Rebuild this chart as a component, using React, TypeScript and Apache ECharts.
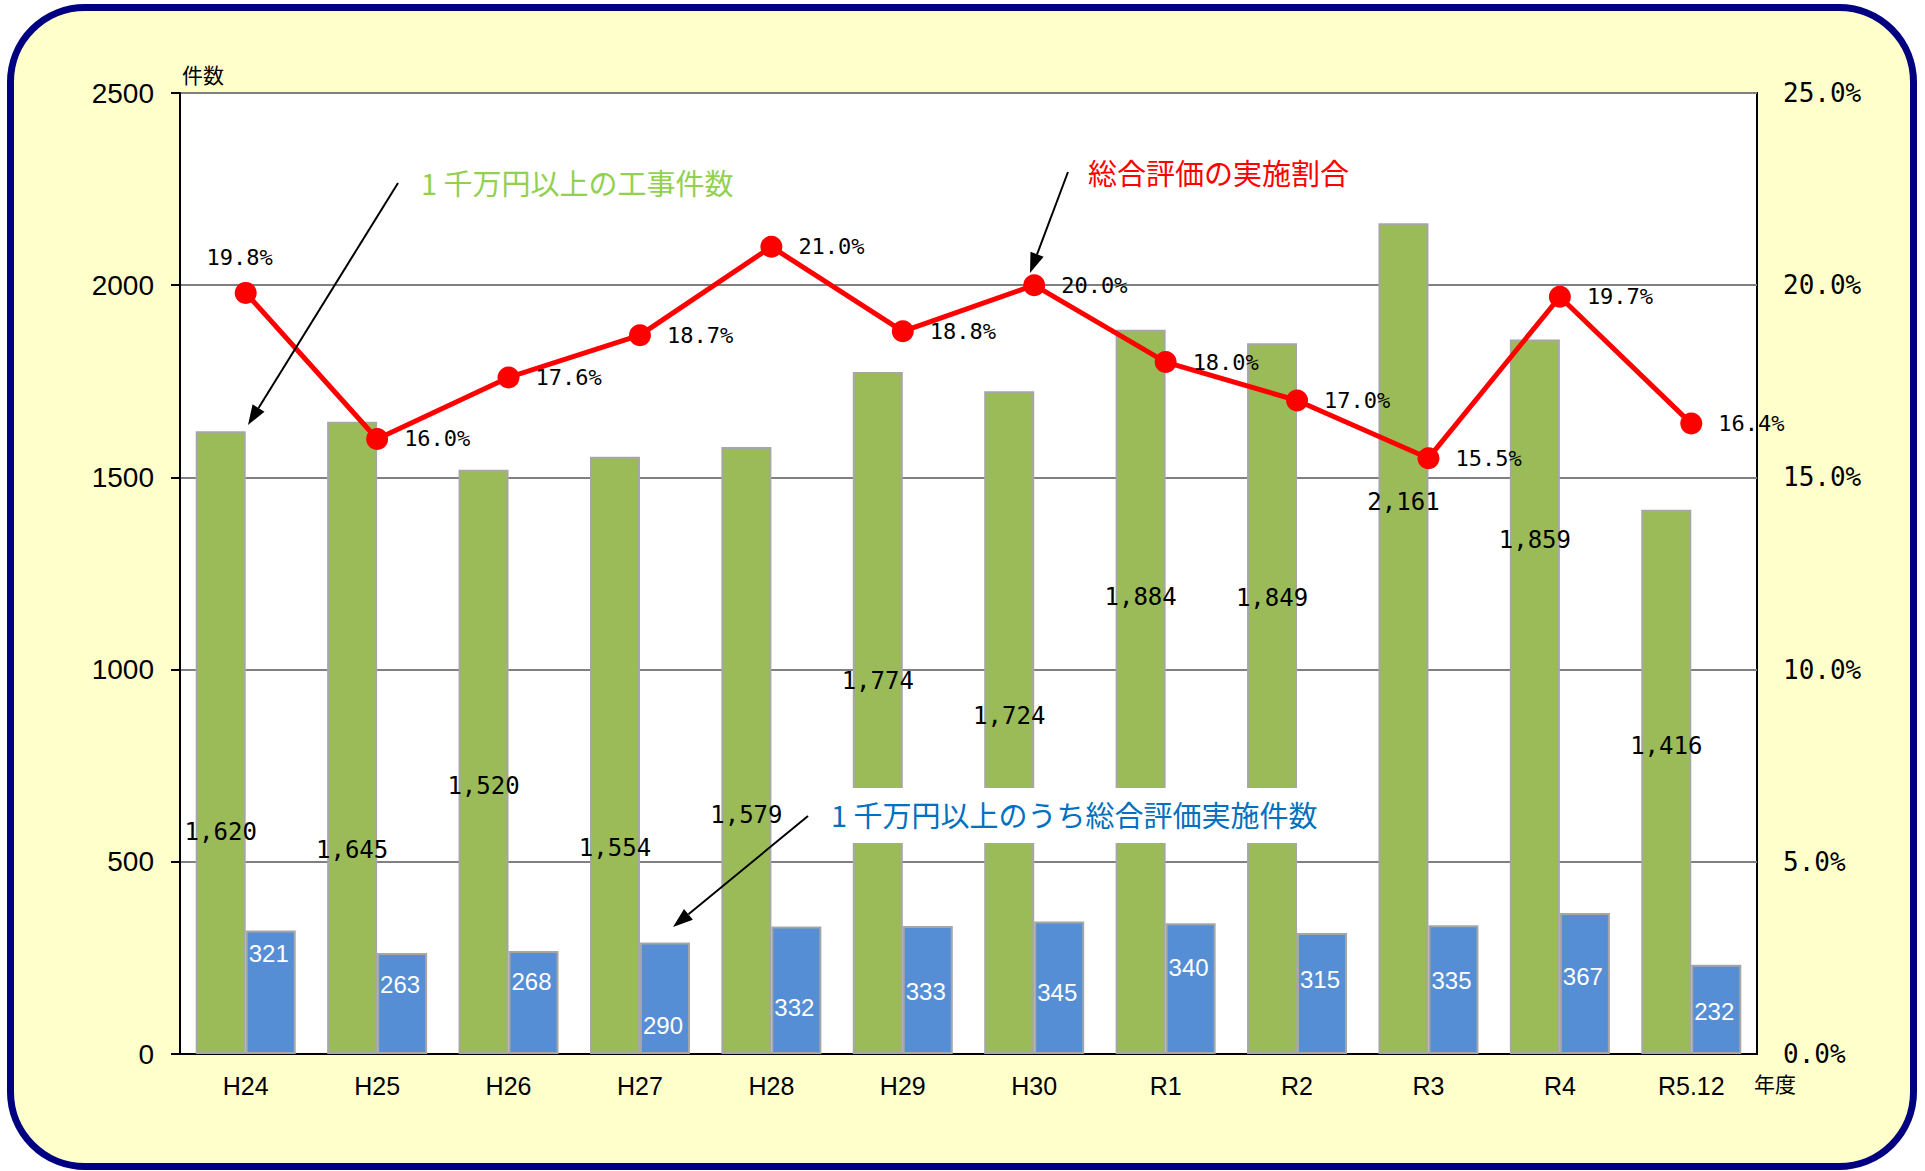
import React, { useEffect, useRef } from "react";
import * as echarts from "echarts";

const categories = ["H24", "H25", "H26", "H27", "H28", "H29", "H30", "R1", "R2", "R3", "R4", "R5.12"];
const totalWorks = [1620, 1645, 1520, 1554, 1579, 1774, 1724, 1884, 1849, 2161, 1859, 1416];
const evaluatedWorks = [321, 263, 268, 290, 332, 333, 345, 340, 315, 335, 367, 232];
const evalRate = [19.8, 16.0, 17.6, 18.7, 21.0, 18.8, 20.0, 18.0, 17.0, 15.5, 19.7, 16.4];
// heights (in count units) where each data label sits, as placed in the original
const totalLabelLevels = [578, 531, 697, 535, 622, 971, 879, 1188, 1185, 1435, 1337, 801];
const evalLabelLevels = [262, 180, 188, 75, 120, 162, 159, 224, 193, 191, 201, 110];

const countAxis = { min: 0, max: 2500, interval: 500 };
const rateAxis = { min: 0, max: 25, interval: 5 };

const W = 1925;
const H = 1171;
const GRID = { left: 180, top: 93, right: 168, bottom: 117 };

const SANS = "'Liberation Sans', Arial, sans-serif";
const MONO = "'DejaVu Sans Mono', 'Liberation Mono', monospace";
const JP = "'Noto Sans CJK JP', sans-serif";

function arrow(x1: number, y1: number, x2: number, y2: number) {
  const dx = x2 - x1;
  const dy = y2 - y1;
  const len = Math.sqrt(dx * dx + dy * dy);
  const ux = dx / len;
  const uy = dy / len;
  const L = 20;
  const w = 7;
  const bx = x2 - ux * L;
  const by = y2 - uy * L;
  const px = -uy;
  const py = ux;
  return [
    {
      type: "line",
      z: 20,
      shape: { x1, y1, x2: bx, y2: by },
      style: { stroke: "#000", lineWidth: 2 },
    },
    {
      type: "polygon",
      z: 20,
      shape: {
        points: [
          [x2, y2],
          [bx + px * w, by + py * w],
          [bx - px * w, by - py * w],
        ],
      },
      style: { fill: "#000" },
    },
  ];
}

export default function App() {
  const ref = useRef<HTMLDivElement>(null);

  useEffect(() => {
    if (!ref.current) return;
    const chart = echarts.init(ref.current, null, { renderer: "svg" });
    const plotH = H - GRID.top - GRID.bottom;
    const ppu = plotH / (countAxis.max - countAxis.min);

    const option: any = {
      animation: false,
      backgroundColor: "transparent",
      grid: {
        left: GRID.left,
        top: GRID.top,
        right: GRID.right,
        bottom: GRID.bottom,
        show: true,
        backgroundColor: "#ffffff",
        borderColor: "#000000",
        borderWidth: 2,
      },
      xAxis: {
        type: "category",
        data: categories,
        axisLine: { lineStyle: { color: "#000", width: 2 } },
        axisTick: { show: false },
        axisLabel: { color: "#000", fontFamily: SANS, fontSize: 25, margin: 19 },
      },
      yAxis: [
        {
          type: "value",
          min: countAxis.min,
          max: countAxis.max,
          interval: countAxis.interval,
          axisLine: { show: true, lineStyle: { color: "#000", width: 2 } },
          axisTick: { show: true, length: 9, lineStyle: { color: "#000", width: 2 } },
          axisLabel: {
            color: "#000",
            fontFamily: SANS,
            fontSize: 28,
            margin: 26,
            formatter: (v: number) => String(v),
          },
          splitLine: { lineStyle: { color: "#808080", width: 2 } },
        },
        {
          type: "value",
          min: rateAxis.min,
          max: rateAxis.max,
          interval: rateAxis.interval,
          axisLine: { show: false },
          axisTick: { show: false },
          splitLine: { show: false },
          axisLabel: {
            color: "#000",
            fontFamily: MONO,
            fontSize: 26,
            margin: 26,
            formatter: (v: number) => v.toFixed(1) + "%",
          },
        },
      ],
      series: [
        {
          type: "bar",
          name: "1千万円以上の工事件数",
          barWidth: 50,
          barGap: "0%",
          itemStyle: { color: "#9BBB59", borderColor: "#A6A6A6", borderWidth: 2 },
          data: totalWorks.map((v, i) => ({
            value: v,
            label: {
              show: true,
              position: "inside",
              offset: [0, (v / 2 - totalLabelLevels[i]) * ppu],
              formatter: () => v.toLocaleString("en-US"),
              color: "#000",
              fontFamily: MONO,
              fontSize: 24,
            },
          })),
        },
        {
          type: "bar",
          name: "1千万円以上のうち総合評価実施件数",
          barWidth: 50,
          barGap: "0%",
          itemStyle: { color: "#558ED5", borderColor: "#A6A6A6", borderWidth: 2 },
          data: evaluatedWorks.map((v, i) => ({
            value: v,
            label: {
              show: true,
              position: "inside",
              offset: [-2, (v / 2 - evalLabelLevels[i]) * ppu],
              formatter: () => String(v),
              color: "#fff",
              fontFamily: SANS,
              fontSize: 24,
            },
          })),
        },
        {
          type: "line",
          name: "総合評価の実施割合",
          yAxisIndex: 1,
          z: 5,
          symbol: "circle",
          symbolSize: 22,
          lineStyle: { color: "#FF0000", width: 5 },
          itemStyle: { color: "#FF0000" },
          label: {
            show: true,
            position: "right",
            distance: 16,
            color: "#000",
            fontFamily: MONO,
            fontSize: 22,
            formatter: (p: any) => Number(p.value).toFixed(1) + "%",
          },
          data: evalRate.map((v, i) =>
            i === 0
              ? { value: v, label: { position: "top", distance: 13, offset: [-6, 0] } }
              : { value: v }
          ),
        },
      ],
      graphic: [
        {
          type: "text",
          z: 20,
          left: 182,
          top: 63,
          style: { text: "件数", fill: "#000", font: `21px ${JP}` },
        },
        {
          type: "text",
          z: 20,
          left: 1754,
          top: 1072,
          style: { text: "年度", fill: "#000", font: `21px ${JP}` },
        },
        {
          type: "text",
          z: 20,
          left: 421,
          top: 167,
          style: { text: "1 千万円以上の工事件数", fill: "#92D050", font: `29px ${JP}` },
        },
        {
          type: "text",
          z: 20,
          left: 1088,
          top: 157,
          style: { text: "総合評価の実施割合", fill: "#FF0000", font: `29px ${JP}` },
        },
        {
          type: "rect",
          z: 15,
          shape: { x: 818, y: 788, width: 512, height: 55 },
          style: { fill: "#ffffff" },
        },
        {
          type: "text",
          z: 20,
          left: 831,
          top: 799,
          style: { text: "1 千万円以上のうち総合評価実施件数", fill: "#0070C0", font: `29px ${JP}` },
        },
        ...arrow(398, 183, 248, 425),
        ...arrow(1068, 172, 1030, 273),
        ...arrow(808, 816, 673, 927),
      ],
    };

    chart.setOption(option);
    return () => chart.dispose();
  }, []);

  return (
    <div style={{ position: "fixed", left: 0, top: 0, width: W, height: H, overflow: "hidden", background: "#fff" }}>
      <div
        style={{
          position: "absolute",
          left: 7,
          top: 4,
          width: 1910,
          height: 1166,
          boxSizing: "border-box",
          border: "7px solid #000080",
          borderRadius: 78,
          background: "#FFFFCC",
        }}
      />
      <div ref={ref} style={{ position: "absolute", left: 0, top: 0, width: W, height: H }} />
    </div>
  );
}
